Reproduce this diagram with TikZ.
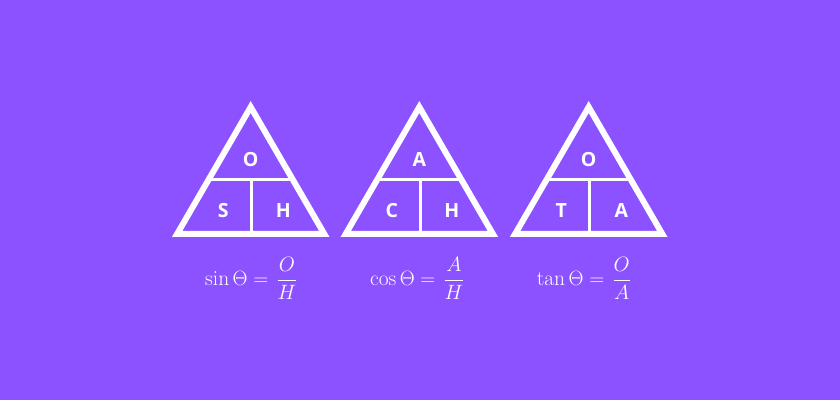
\documentclass[tikz,border=0pt]{standalone}
\usepackage{amsmath}
\usepackage{fontspec}
\newfontfamily\lettfont{Open Sans}
\definecolor{bgpurple}{HTML}{8C52FF}
\tikzset{
  tri/.style={draw=white, line width=6pt, line join=miter},
  divider/.style={draw=white, line width=3pt},
  lett/.style={text=white, font=\lettfont\bfseries\fontsize{19.5}{22}\selectfont, inner sep=0pt},
  formula/.style={text=white, font=\fontsize{21.5}{25}\selectfont, inner sep=0pt}
}
\newcommand{\releq}{=\mkern2mu}
\begin{document}
\begin{tikzpicture}[x=1pt,y=-1pt]
\fill[bgpurple] (0,0) rectangle (840,400);
\useasboundingbox (0,0) rectangle (840,400);
\foreach \cx/\t/\l/\r/\n in {250.7/O/S/H/1, 419.3/A/C/H/2, 588.7/O/T/A/3}{
  \coordinate (apex\n) at (\cx,107);
  \coordinate (bl\n) at (\cx-73.5,233.8);
  \coordinate (br\n) at (\cx+73.5,233.8);
  \draw[tri] (apex\n) -- (bl\n) -- (br\n) -- cycle;
  \coordinate (ml\n) at (\cx-42,179);
  \coordinate (mr\n) at (\cx+42,179);
  \coordinate (mc\n) at (\cx+1,179);
  \coordinate (bc\n) at (\cx+1,233.8);
  \draw[divider] (ml\n) -- (mr\n);
  \draw[divider] (mc\n) -- (bc\n);
  \node[lett] (top\n) at (\cx,160) {\t};
  \node[lett] (left\n) at (\cx-27.4,210.3) {\l};
  \node[lett] (right\n) at (\cx+32.6,210.3) {\r};
}
\node[formula] (f1) at (251.2,278.5) {$\sin\Theta \releq \dfrac{O}{H}$};
\node[formula] (f2) at (417.2,278.5) {$\cos\Theta \releq \dfrac{A}{H}$};
\node[formula] (f3) at (583.8,278.5) {$\tan\Theta \releq \dfrac{O}{A}$};
\end{tikzpicture}
\end{document}
